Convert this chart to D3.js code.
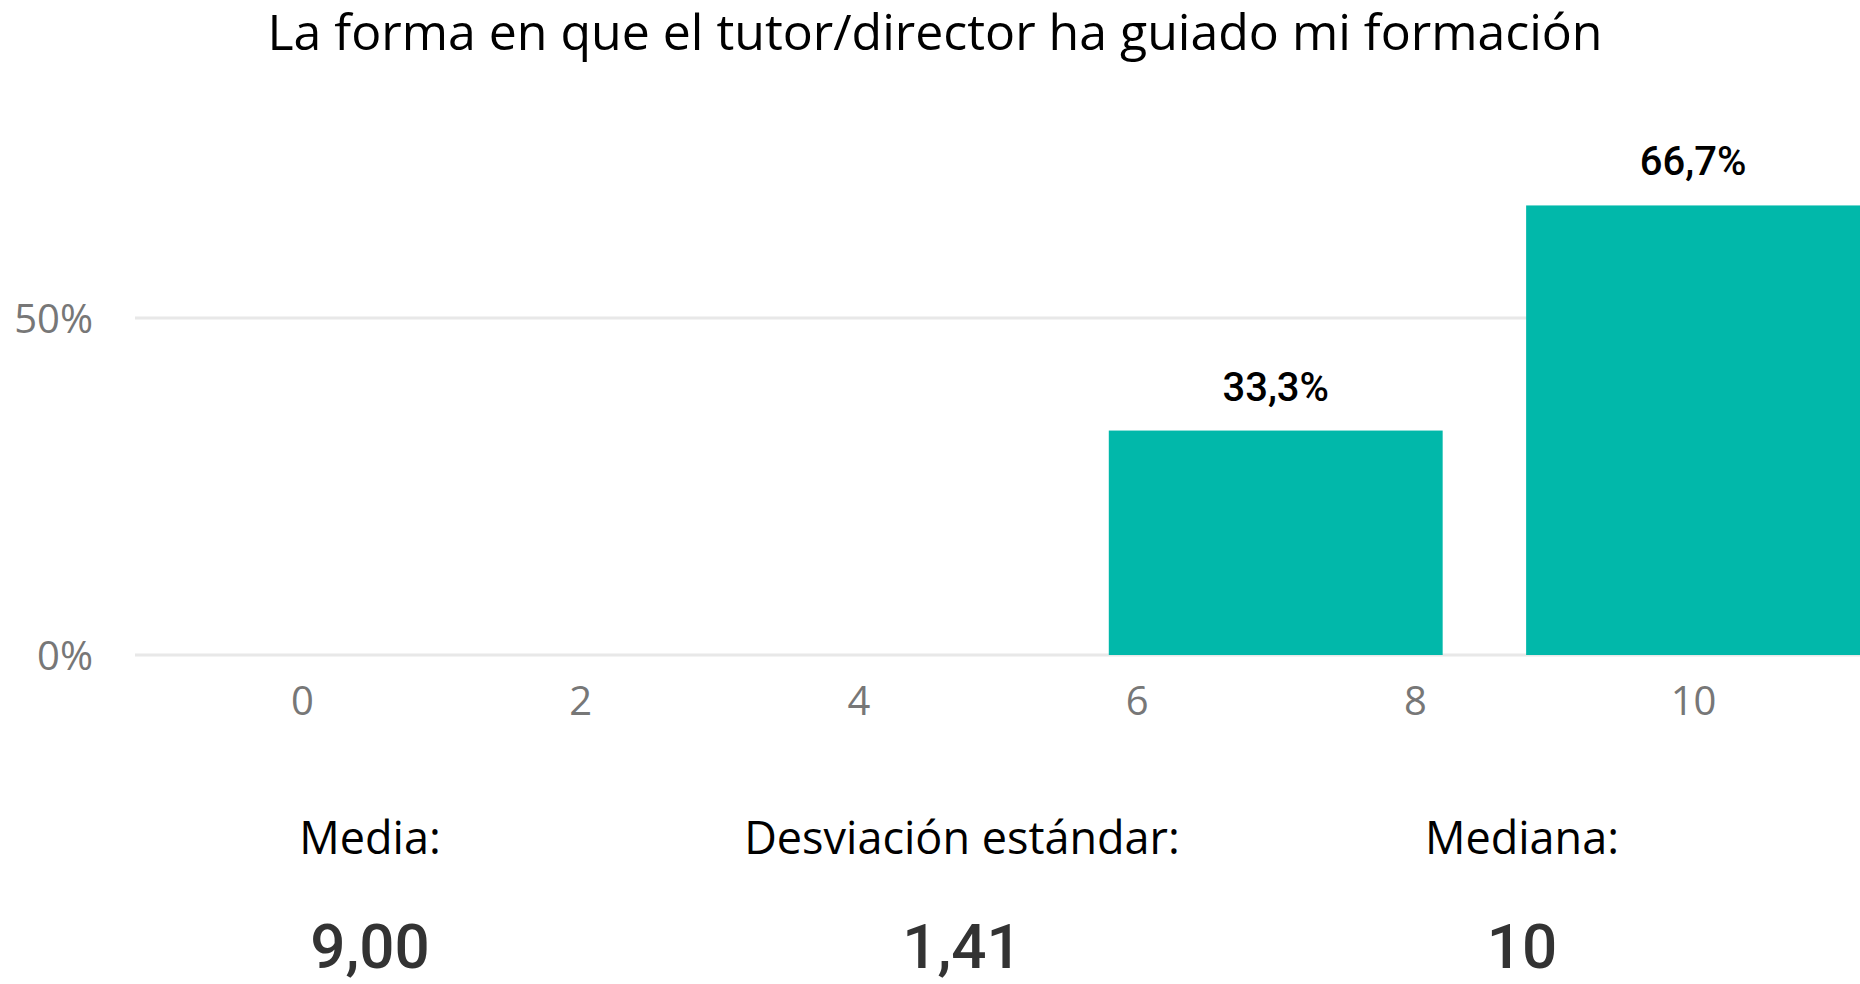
<!DOCTYPE html>
<html>
<head>
<meta charset="utf-8">
<script src="https://cdn.jsdelivr.net/npm/d3@7"></script>
<style>
  body { margin: 0; background: #fff; }
  svg { display: block; }
</style>
</head>
<body>
<div id="chart"></div>
<script>
// PLOT DEFAULTS
const WIDTH = 1860;
const HEIGHT = 984;
const BAR_COLOR = '#01b8aa';
const GRID_COLOR = '#e8e8e8';

// DATA //
const title = 'La forma en que el tutor/director ha guiado mi formación';
const scores = [7, 10];            // bar centres on the 0-10 scale
const shares = [33.3, 66.7];       // % of answers
const shareLabels = ['33,3%', '66,7%'];
const xTicks = [0, 2, 4, 6, 8, 10];
const yTicks = [0, 50];
const statNames = ['Media:', 'Desviación estándar:', 'Mediana:'];
const statValues = ['9,00', '1,41', '10'];

const svg = d3.select('#chart')
  .append('svg')
  .attr('width', WIDTH)
  .attr('height', HEIGHT);

// scales
const xScale = d3.scaleLinear()
  .domain([-1.2, 11.2])
  .range([135, WIDTH]);

const yScale = d3.scaleLinear()
  .domain([0, 50])
  .range([655, 318]);

const halfBar = 1.2; // bar half width in score units

// title
svg.append('text')
  .attr('x', 935)
  .attr('y', 50)
  .attr('text-anchor', 'middle')
  .style('font-family', 'Open Sans')
  .style('font-size', '50px')
  .attr('fill', '#000')
  .text(title);

// gridlines
svg.append('g')
  .selectAll('line')
  .data(yTicks)
  .join('line')
  .attr('x1', xScale.range()[0])
  .attr('x2', xScale.range()[1])
  .attr('y1', d => yScale(d))
  .attr('y2', d => yScale(d))
  .attr('stroke', GRID_COLOR)
  .attr('stroke-width', 3);

// y axis labels
const yAxis = svg.append('g')
  .attr('transform', 'translate(93, 0)')
  .call(d3.axisLeft(yScale).tickValues(yTicks).tickSize(0).tickPadding(0).tickFormat(d => d + '%'));
yAxis.select('.domain').remove();
yAxis.selectAll('text')
  .attr('dy', '0.36em')
  .style('font-family', 'Open Sans')
  .style('font-size', '40px')
  .attr('fill', '#777');

// x axis labels
const xAxis = svg.append('g')
  .attr('transform', 'translate(0, 675)')
  .call(d3.axisBottom(xScale).tickValues(xTicks).tickSize(0).tickPadding(0));
xAxis.select('.domain').remove();
xAxis.selectAll('text')
  .attr('dy', '1em')
  .style('font-family', 'Open Sans')
  .style('font-size', '40px')
  .attr('fill', '#777');

// bars
svg.append('g')
  .selectAll('rect')
  .data(scores)
  .join('rect')
  .attr('x', d => xScale(d - halfBar))
  .attr('width', d => xScale(d + halfBar) - xScale(d - halfBar))
  .attr('y', (d, i) => yScale(shares[i]))
  .attr('height', (d, i) => yScale(0) - yScale(shares[i]))
  .attr('fill', BAR_COLOR);

// bar labels
svg.append('g')
  .selectAll('text')
  .data(scores)
  .join('text')
  .attr('x', d => xScale(d))
  .attr('y', (d, i) => yScale(shares[i]) - 30)
  .attr('text-anchor', 'middle')
  .style('font-family', 'Roboto')
  .style('font-weight', '500')
  .style('font-size', '40px')
  .attr('fill', '#000')
  .text((d, i) => shareLabels[i]);

// summary statistics
const statX = [370, 962, 1522];
const stats = svg.append('g');
stats.selectAll('text.name')
  .data(statNames)
  .join('text')
  .attr('class', 'name')
  .attr('x', (d, i) => statX[i])
  .attr('y', 854)
  .attr('text-anchor', 'middle')
  .style('font-family', 'Open Sans')
  .style('font-size', '45px')
  .attr('fill', '#000')
  .text(d => d);

stats.selectAll('text.value')
  .data(statValues)
  .join('text')
  .attr('class', 'value')
  .attr('x', (d, i) => statX[i])
  .attr('y', 968)
  .attr('text-anchor', 'middle')
  .style('font-family', 'Roboto')
  .style('font-weight', '500')
  .style('font-size', '62px')
  .attr('fill', '#333')
  .text(d => d);
</script>
</body>
</html>
